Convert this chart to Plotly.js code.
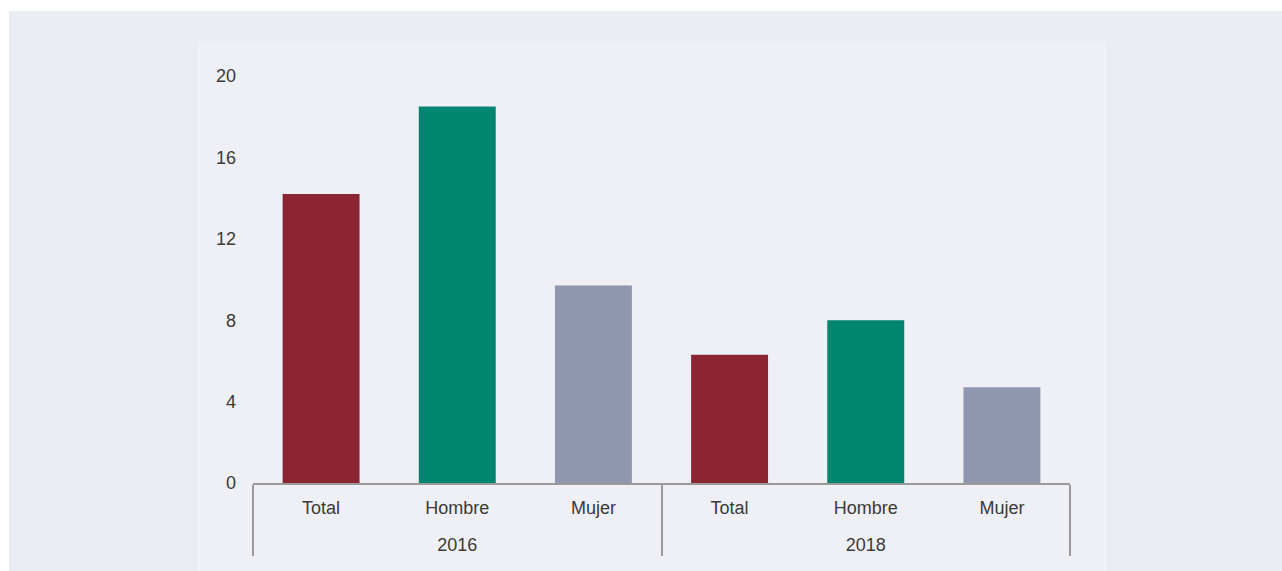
<!DOCTYPE html>
<html>
<head>
<meta charset="utf-8">
<script src="https://cdn.plot.ly/plotly-3.0.1.min.js"></script>
<style>
  html, body { margin: 0; padding: 0; background: #ffffff; width: 1282px; height: 571px; overflow: hidden; }
  #outer { position: absolute; left: 9px; top: 11px; width: 1273px; height: 560px; background: #e9ecf3; }
  #panel { position: absolute; left: 197px; top: 41px; width: 910px; height: 530px; background: #eef0f5; }
  #chart { position: absolute; left: 0; top: 0; width: 1282px; height: 571px; }
</style>
</head>
<body>
<div id="outer"></div>
<div id="panel"></div>
<div id="chart"></div>
<script>
const years = ["2016", "2016", "2016", "2018", "2018", "2018"];
const groups = ["Total", "Hombre", "Mujer", "Total", "Hombre", "Mujer"];
const values = [14.2, 18.5, 9.7, 6.3, 8.0, 4.7];
const barColors = ["#8b2532", "#008571", "#8e96b0", "#8b2532", "#008571", "#8e96b0"];
const yTicks = [0, 4, 8, 12, 16, 20];

// invisible padding so the second label row sits lower, as in the reference
const spacer = "<span style='font-size:38px'>&nbsp;</span>";
const groupLabels = groups.map(g => spacer + g + spacer);

const trace = {
  type: "bar",
  x: [years, groupLabels],
  y: values,
  marker: { color: barColors, line: { width: 0 } },
  hoverinfo: "y"
};

const layout = {
  width: 1282,
  height: 571,
  margin: { l: 253, r: 212, t: 76, b: 88, pad: 0 },
  paper_bgcolor: "rgba(0,0,0,0)",
  plot_bgcolor: "rgba(0,0,0,0)",
  showlegend: false,
  bargap: 0.435,
  font: { family: "Liberation Sans, Arial, sans-serif", size: 18, color: "#3a3a3a" },
  xaxis: {
    type: "multicategory",
    showline: true,
    linecolor: "#9a9a9a",
    linewidth: 2,
    showgrid: false,
    zeroline: false,
    ticks: "",
    ticklabelstandoff: 7,
    showdividers: true,
    dividercolor: "#9a9a9a",
    dividerwidth: 2,
    tickfont: { size: 18, color: "#3a3a3a" }
  },
  yaxis: {
    range: [0, 20],
    tickvals: yTicks,
    ticktext: yTicks.map(String),
    showline: false,
    showgrid: false,
    zeroline: false,
    ticks: "",
    ticklabelstandoff: 16,
    tickfont: { size: 18, color: "#3a3a3a" }
  }
};

Plotly.newPlot("chart", [trace], layout, { displayModeBar: false, staticPlot: true });
</script>
</body>
</html>
